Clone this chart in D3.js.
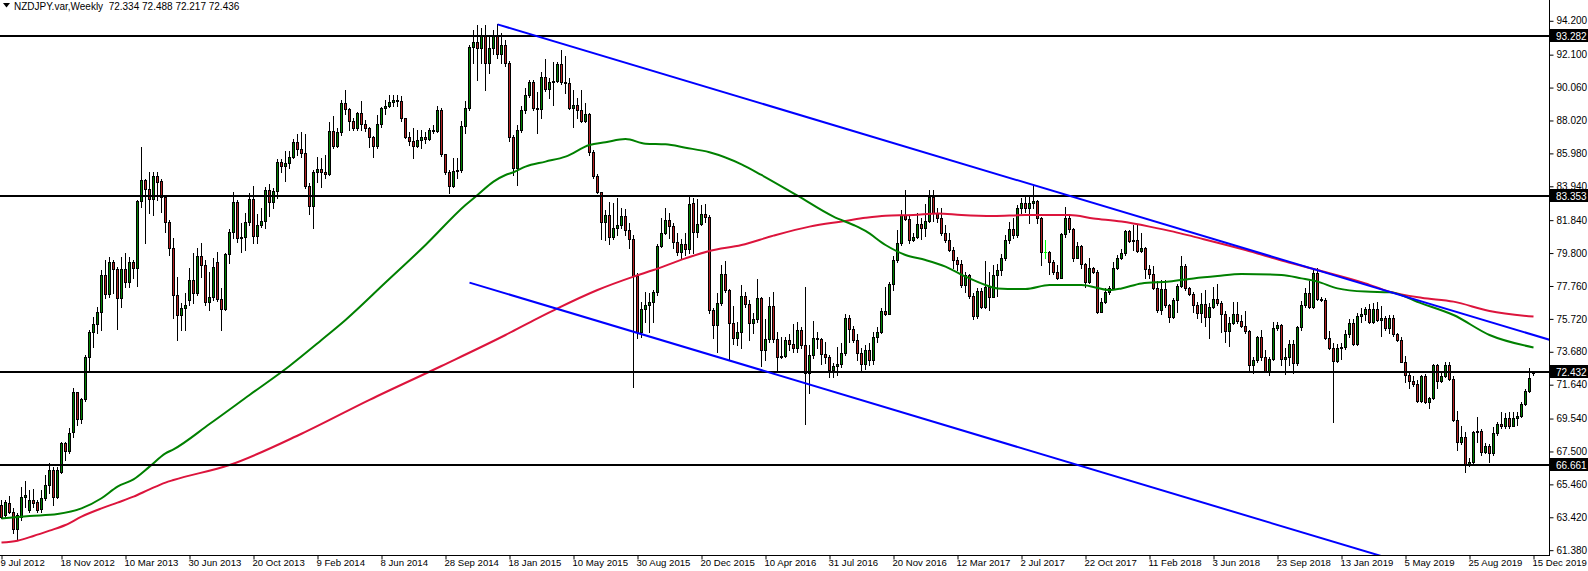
<!DOCTYPE html>
<html><head><meta charset="utf-8">
<script src="https://cdn.jsdelivr.net/npm/d3@7"></script>
<style>body{margin:0;background:#fff;overflow:hidden}svg{display:block}</style>
</head><body>
<svg id="chart" width="1588" height="571"></svg>
<script>
// ---------- DATA (weekly NZDJPY bars, index 0 = first visible week) ----------
const openP = [
64.18,63.56,64.29,63.77,62.67,63.46,64.70,63.87,64.49,64.39,
63.91,64.60,65.42,66.35,64.70,66.25,68.05,67.55,68.73,71.17,
69.49,70.73,73.34,74.91,75.40,76.13,78.44,77.26,79.23,78.79,
76.99,78.79,78.03,79.23,78.90,83.03,84.31,83.75,83.13,84.58,
84.27,83.30,81.75,80.09,77.20,75.96,76.37,76.89,78.13,77.30,
79.62,79.06,76.79,77.10,79.23,76.95,76.33,79.72,81.09,82.95,
80.75,80.82,81.75,83.15,80.88,81.54,81.79,83.71,82.95,83.65,
85.43,85.22,85.36,85.78,86.66,86.25,85.98,83.98,82.74,84.81,
85.01,84.81,84.68,87.37,86.46,87.33,89.08,88.73,87.99,87.57,
88.46,87.78,87.53,87.00,86.44,87.78,88.77,88.94,89.14,89.29,
89.23,88.15,87.00,86.75,86.44,86.81,87.00,86.87,87.43,87.39,
88.67,85.92,84.80,83.98,84.89,84.93,87.68,88.81,92.60,92.87,
92.49,93.28,91.56,92.49,93.28,92.12,92.70,91.56,87.02,85.05,
87.43,88.67,89.60,90.42,88.81,88.73,90.73,89.97,90.42,90.47,
91.50,90.38,90.32,88.81,88.95,88.67,87.99,88.40,86.09,84.60,
83.57,81.75,82.16,80.82,81.37,81.54,82.12,81.23,80.67,78.40,
74.93,76.33,76.58,76.75,77.41,80.26,81.02,81.85,81.50,80.47,
79.85,80.34,80.05,82.88,81.13,81.58,82.20,82.06,76.27,75.34,
76.68,78.48,77.51,75.44,74.51,74.89,77.16,76.62,75.44,75.71,
76.99,73.79,74.47,76.52,74.47,73.38,73.44,74.41,74.14,73.94,
75.03,74.10,72.34,73.48,74.51,74.47,73.52,73.38,72.55,72.82,
72.90,73.58,75.75,75.09,74.41,73.60,72.95,73.80,73.20,74.60,
74.93,76.21,76.00,77.86,79.37,80.40,82.16,81.91,80.61,80.82,
81.58,81.37,81.79,83.30,82.26,81.95,81.02,80.61,79.99,79.37,
79.10,77.82,78.44,77.16,75.92,77.45,76.48,77.72,77.10,78.44,
78.75,79.47,80.61,81.30,80.92,82.61,82.88,82.61,82.88,83.03,
81.99,79.85,79.85,79.23,78.65,78.27,80.96,81.95,81.29,79.51,
80.26,79.10,77.99,78.89,78.65,76.13,76.75,77.37,77.61,78.89,
79.51,79.78,81.17,80.55,80.61,79.93,80.14,78.81,78.48,77.61,
76.27,77.57,76.58,75.86,76.89,77.78,79.02,77.66,77.24,76.58,
76.10,76.64,75.82,76.44,76.93,76.72,76.02,74.99,75.44,76.02,
75.61,75.28,74.99,72.86,73.17,74.58,73.34,72.51,73.21,75.13,
75.34,73.21,73.34,74.16,72.96,75.20,76.58,77.35,76.44,78.58,
76.93,76.89,74.51,73.89,73.13,73.89,73.95,74.78,75.44,74.16,
75.90,76.00,76.33,75.51,76.33,75.65,75.75,75.13,75.75,74.76,
74.41,73.07,72.24,71.87,71.66,70.63,72.20,70.55,70.79,72.86,
71.87,72.20,72.86,71.99,69.45,68.07,68.42,66.66,66.83,68.73,
68.77,67.45,67.86,67.38,68.62,69.18,69.10,69.59,69.10,69.59,
69.72,70.42,71.25,72.334];
const highP = [
64.49,64.49,64.74,63.97,63.66,65.32,65.67,65.11,65.15,64.49,
65.11,66.04,66.77,66.56,66.56,68.11,68.11,68.93,71.42,71.21,
70.79,73.48,75.03,75.86,76.48,78.75,79.37,79.58,79.37,78.96,
79.58,79.78,79.58,79.37,83.09,86.40,84.37,84.85,84.85,84.85,
84.37,83.40,81.85,80.72,78.34,76.68,77.30,78.85,79.78,80.09,
80.40,79.37,78.65,79.47,79.89,77.61,79.78,81.29,83.61,83.09,
81.64,82.26,83.50,83.96,82.20,82.62,83.92,84.08,83.81,85.63,
85.63,86.13,86.13,86.87,87.16,87.33,87.16,84.12,84.95,85.78,
85.71,85.88,87.95,88.32,87.53,89.29,89.91,88.81,88.15,88.57,
89.23,88.05,87.64,87.08,88.36,88.88,89.29,89.60,89.60,89.60,
89.56,88.19,87.33,87.53,87.43,87.43,87.28,87.57,87.74,88.94,
88.77,85.96,84.95,85.71,85.67,87.99,89.23,92.70,93.63,93.94,
93.73,93.94,93.28,93.63,93.98,93.42,93.00,91.70,87.10,87.74,
88.94,90.01,90.53,90.53,89.81,91.05,91.83,90.67,91.62,91.67,
92.39,92.04,90.67,89.91,89.39,89.91,89.08,88.46,86.19,84.70,
83.61,82.47,82.99,82.88,83.23,82.57,82.53,81.64,80.90,78.54,
76.79,77.41,77.30,77.51,80.34,81.95,82.62,82.26,81.64,81.02,
80.67,81.02,83.30,83.19,83.15,82.78,82.82,82.16,76.37,77.30,
79.06,79.31,77.57,76.54,75.55,77.82,77.37,76.89,76.06,78.19,
77.10,75.71,77.10,77.37,74.89,74.62,74.62,74.76,75.38,75.55,
75.24,77.72,74.10,75.59,74.93,74.51,74.31,73.48,72.96,73.99,
74.20,76.00,75.96,75.30,74.80,73.90,74.10,74.20,74.90,75.24,
76.37,77.72,77.99,79.64,81.23,82.47,83.71,82.16,81.02,82.26,
81.95,82.82,83.71,83.71,82.62,82.57,81.54,81.02,80.20,79.58,
79.37,78.65,78.50,77.30,77.61,77.61,79.31,78.65,79.06,79.10,
79.72,80.92,81.75,81.95,82.78,83.23,83.30,83.30,84.02,83.09,
82.06,80.61,79.93,79.37,79.06,81.02,82.68,82.20,81.33,80.51,
80.30,79.16,79.47,78.96,78.75,77.00,77.61,77.78,79.23,79.68,
80.05,81.23,81.20,81.54,81.54,81.02,80.20,79.06,79.02,78.07,
78.13,78.13,76.62,76.99,77.86,79.64,79.10,77.72,77.41,76.79,
77.30,77.51,76.68,77.68,77.88,76.85,76.23,75.86,76.79,76.79,
75.96,76.23,75.03,73.38,74.66,75.03,73.79,73.38,75.55,75.55,
75.40,73.89,74.41,74.41,75.28,76.85,77.61,78.09,78.85,78.85,
77.06,76.99,74.99,74.20,74.16,74.24,75.03,75.69,75.69,76.06,
76.37,76.48,76.62,76.68,76.79,76.54,75.92,75.96,75.96,74.82,
74.62,73.44,72.41,72.20,71.93,72.24,72.28,70.90,72.90,72.90,
72.41,73.07,73.03,72.20,70.01,69.10,68.73,67.12,68.77,69.66,
68.90,68.01,67.94,69.04,69.31,69.97,69.86,69.93,69.97,69.93,
70.55,71.37,72.70,72.488];
const lowP = [
63.35,63.46,63.66,62.42,62.01,63.25,64.08,63.77,64.08,63.77,
63.77,64.49,64.90,64.18,64.60,66.14,66.97,67.38,68.42,69.14,
69.25,70.65,72.55,73.99,74.82,75.03,76.99,77.10,77.30,75.07,
76.48,77.72,77.72,78.23,77.76,82.64,80.45,82.26,82.16,83.09,
82.37,81.13,79.68,75.75,74.41,75.03,75.03,76.58,76.68,77.20,
78.34,76.58,76.27,76.89,76.83,75.03,76.27,79.16,80.71,80.51,
79.85,79.99,81.54,80.40,80.40,81.44,81.38,82.12,82.62,83.19,
84.85,84.29,85.05,85.71,85.88,85.78,83.86,82.20,81.38,84.23,
83.92,84.48,84.64,86.34,86.40,87.12,88.40,87.43,87.43,87.43,
87.43,87.37,86.40,85.78,86.34,87.64,88.40,88.88,88.94,88.90,
87.99,86.91,86.50,85.67,86.40,86.29,86.60,86.81,87.22,87.33,
85.84,84.68,83.50,83.92,84.43,84.85,87.22,88.67,91.56,90.53,
91.56,89.91,90.94,92.12,91.90,91.56,91.40,86.75,84.64,84.02,
87.33,88.46,89.50,88.67,87.22,88.15,89.85,89.39,88.98,90.42,
90.26,89.70,88.73,87.64,88.15,87.91,87.91,85.88,84.48,83.50,
80.67,80.61,80.34,80.67,80.92,81.33,80.92,80.09,71.48,74.51,
74.62,75.55,74.93,75.55,77.20,80.20,80.96,80.71,80.09,79.68,
79.51,79.68,79.78,79.78,80.82,81.54,81.75,76.06,74.56,73.65,
76.58,77.37,73.17,74.14,74.10,73.94,76.48,74.41,74.82,75.55,
72.82,73.17,74.31,74.31,72.45,73.27,73.38,73.79,73.69,73.69,
73.90,69.18,71.10,73.32,73.89,72.90,72.96,72.14,72.14,72.24,
72.76,73.48,74.31,74.27,73.20,72.55,72.60,72.85,72.95,74.30,
74.82,75.96,76.00,77.51,79.27,80.30,81.85,80.40,80.55,80.71,
80.67,80.88,81.75,81.79,81.75,80.92,80.51,79.93,78.85,78.75,
77.72,77.41,76.99,75.71,75.80,76.37,76.37,76.27,77.10,77.16,
78.44,79.37,80.40,80.71,80.82,82.26,82.37,81.64,82.57,81.64,
79.06,79.47,78.48,78.48,78.19,78.23,80.82,81.13,79.31,79.47,
78.85,77.72,77.92,78.54,76.06,76.13,76.68,77.24,77.57,78.81,
79.43,79.70,80.51,79.99,79.85,79.89,78.23,78.23,77.57,76.13,
76.00,76.48,75.55,75.80,76.17,77.72,77.51,77.20,76.17,75.75,
75.55,75.28,74.51,76.37,76.58,74.93,74.31,74.04,75.40,75.48,
75.20,74.82,72.51,72.34,73.07,73.17,72.45,72.24,73.17,75.03,
72.86,72.30,72.86,72.34,72.86,75.03,76.48,76.37,76.37,76.89,
76.85,74.45,73.83,69.35,73.07,73.21,73.83,74.58,74.10,74.10,
75.55,75.65,75.44,75.44,75.59,74.68,75.03,74.82,74.68,74.35,
73.03,71.79,71.45,71.58,70.59,70.59,70.48,70.22,70.75,71.41,
71.79,72.14,71.93,69.39,67.59,67.94,66.25,66.60,66.70,68.11,
67.28,67.38,66.87,67.28,68.52,68.93,68.97,68.93,69.05,69.14,
69.66,70.38,71.17,72.217];
const closeP = [
63.46,64.39,63.77,62.67,63.56,64.70,64.80,64.49,64.33,63.87,
64.60,65.42,66.35,64.70,66.35,68.00,67.55,68.62,71.17,69.49,
70.73,73.34,74.91,75.40,76.13,78.44,77.26,79.23,78.79,76.99,
78.79,78.03,79.23,78.90,83.03,84.31,83.75,83.13,84.58,84.23,
83.26,81.75,80.09,77.20,75.96,76.37,76.58,78.13,77.30,79.62,
79.06,76.79,77.10,78.92,76.95,76.33,79.72,81.09,82.95,80.75,
80.82,81.75,83.15,80.88,81.54,81.79,83.71,82.95,83.65,85.43,
85.22,85.36,85.78,86.66,86.25,85.98,83.98,82.74,84.81,85.01,
84.81,84.68,87.37,86.46,87.33,89.08,88.73,87.99,87.57,88.46,
87.78,87.53,87.00,86.44,87.78,88.77,88.94,89.14,89.29,89.23,
88.15,87.00,86.75,86.44,86.81,87.00,86.87,87.43,87.39,88.67,
85.92,84.80,83.98,84.89,84.93,87.68,88.81,92.60,92.87,92.49,
93.28,91.56,92.49,93.28,92.12,92.70,91.56,87.02,85.05,87.43,
88.67,89.60,90.42,88.81,88.73,90.73,89.97,90.42,90.47,91.50,
90.38,90.32,88.81,88.95,88.67,87.99,88.40,86.09,84.60,83.57,
81.75,82.16,80.82,81.37,81.54,82.12,81.23,80.67,78.40,74.93,
76.33,76.58,76.75,77.41,80.26,81.02,81.85,81.50,80.47,79.85,
80.34,80.05,82.82,81.13,81.58,82.20,82.06,76.27,75.34,76.68,
78.48,77.51,75.44,74.51,74.89,77.16,76.62,75.44,75.71,76.99,
73.79,74.47,76.52,74.47,73.38,73.44,74.41,74.14,73.94,75.03,
74.10,72.34,73.48,74.51,74.47,73.52,73.38,72.55,72.82,72.90,
73.58,75.75,75.09,74.41,73.60,72.95,73.80,73.20,74.60,74.93,
76.21,76.00,77.86,79.37,80.40,82.16,81.91,80.61,80.82,81.58,
81.37,81.79,83.30,82.26,81.95,81.02,80.61,79.99,79.37,79.10,
77.82,78.44,77.16,75.92,77.45,76.48,77.72,77.10,78.44,78.75,
79.47,80.61,81.30,80.92,82.61,82.88,82.61,82.88,83.03,81.99,
79.85,79.85,79.23,78.65,78.27,80.96,81.95,81.29,79.51,80.26,
79.10,77.99,78.89,78.65,76.13,76.75,77.37,77.61,78.89,79.51,
79.78,81.17,80.55,80.61,79.93,80.14,78.81,78.48,77.61,76.27,
77.57,76.58,75.86,76.89,77.78,79.02,77.66,77.24,76.58,76.10,
76.64,75.82,76.44,76.93,76.72,76.02,74.99,75.44,76.02,75.61,
75.28,74.99,72.86,73.17,74.58,73.34,72.51,73.21,75.13,75.34,
73.21,73.34,74.16,72.96,75.20,76.58,77.35,76.44,78.58,76.93,
76.89,74.51,73.89,73.13,73.89,73.95,74.78,75.44,74.16,75.90,
76.00,76.33,75.51,76.33,75.65,75.75,75.13,75.75,74.76,74.41,
73.07,72.24,71.87,71.66,70.63,72.20,70.55,70.79,72.86,71.87,
72.20,72.86,71.99,69.45,68.07,68.42,66.66,66.83,68.73,68.77,
67.45,67.86,67.38,68.62,69.18,69.10,69.59,69.10,69.59,69.72,
70.42,71.25,72.07,72.436];

// moving averages: bar index -> value
const maGreenBar = [0,7,14,20,25,29,33,37,41,43,52,62,72,80,86,96,106,116,119,123,126,128,131,136,141,147,151,156,161,166,171,177,185,190,199,208,213,216,221,226,231,236,241,246,249,256,262,270,277,280,285,292,298,304,310,320,325,329,334,341,347,355,363,372,383];
const maGreenVal = [63.35,63.50,63.62,63.97,64.60,65.32,65.77,66.56,67.38,67.63,69.2,71.0,72.8,74.41,75.65,77.97,80.3,82.78,83.40,84.23,84.64,84.81,85.16,85.47,85.78,86.50,86.67,86.87,86.58,86.54,86.33,86.05,85.30,84.64,83.36,82.06,81.54,81.17,80.30,79.68,79.37,78.96,78.34,77.82,77.61,77.57,77.82,77.82,77.51,77.61,77.92,78.03,78.23,78.38,78.50,78.44,78.23,78.03,77.61,77.41,77.37,76.68,75.96,74.72,73.95];
const maRedBar = [0,4,8,12,16,20,25,29,33,37,41,43,57,75,92,110,126,134,139,149,158,163,171,177,185,193,202,211,216,221,228,234,240,248,256,267,273,280,287,293,298,311,321,329,341,347,355,363,372,383];
const maRedVal = [61.85,61.97,62.26,62.59,62.94,63.46,63.97,64.33,64.70,65.15,65.57,65.73,66.66,68.6,70.7,72.8,74.72,75.75,76.37,77.51,78.34,78.75,79.47,79.93,80.30,80.88,81.44,81.79,81.99,82.12,82.16,82.26,82.16,82.10,82.16,82.16,81.95,81.75,81.44,81.13,80.82,79.99,79.27,78.75,77.92,77.41,77.03,76.79,76.21,75.86];

// horizontal levels and trend rays (bar1, price1, bar2, price2)
const levels = [93.282, 83.353, 72.432, 66.661];
const trendStartBar = [124, 117];
const trendStartPrice = [93.98, 77.97];
const trendEndBar = [383, 213];
const trendEndPrice = [74.72, 70.83];

const priceTicks = [94.200,92.100,90.060,88.020,85.980,83.940,81.840,79.800,77.760,75.720,73.680,71.640,69.540,67.500,65.460,63.420,61.380];
const timeLabels = ["9 Jul 2012","18 Nov 2012","10 Mar 2013","30 Jun 2013","20 Oct 2013","9 Feb 2014","8 Jun 2014","28 Sep 2014","18 Jan 2015","10 May 2015","30 Aug 2015","20 Dec 2015","10 Apr 2016","31 Jul 2016","20 Nov 2016","12 Mar 2017","2 Jul 2017","22 Oct 2017","11 Feb 2018","3 Jun 2018","23 Sep 2018","13 Jan 2019","5 May 2019","25 Aug 2019","15 Dec 2019"];
const timeLabelBars = [0,15,31,47,63,79,95,111,127,143,159,175,191,207,223,239,255,271,287,303,319,335,351,367,383];
const headerSymbol = "NZDJPY.var,Weekly";
const headerValues = ["72.334","72.488","72.217","72.436"];

// ---------- DRAWING ----------
const W = 1588, H = 571;
const plotRight = 1549, plotBottom = 555;
const FONT = "'Liberation Sans', Arial, sans-serif";
const svg = d3.select("#chart");
svg.append("rect").attr("width", W).attr("height", H).attr("fill", "#fff");

const x = d3.scaleLinear().domain([0, 383]).range([1.5, 1.5 + 4 * 383]);
const y = d3.scaleLinear().domain([66.661, 93.282]).range([465.0, 35.6]);

svg.append("defs").append("clipPath").attr("id", "plotClip")
  .append("rect").attr("x", 0).attr("y", 0).attr("width", plotRight).attr("height", plotBottom);
const plot = svg.append("g").attr("clip-path", "url(#plotClip)");

const bars = d3.range(closeP.length).map(i => {
  const o = openP[i], c = closeP[i];
  return {i, o, c, h: Math.max(highP[i], o, c), l: Math.min(lowP[i], o, c)};
});
const cx = d => Math.round(x(d.i) - 0.5) + 0.5;
const bodyTop = d => Math.round(y(Math.max(d.o, d.c)));
const bodyBot = d => Math.max(bodyTop(d) + 1, Math.round(y(Math.min(d.o, d.c))));
const isDoji = d => d.o === d.c;

const cg = plot.append("g");
cg.selectAll("line.wick").data(bars).join("line").attr("class", "wick")
  .attr("x1", cx).attr("x2", cx)
  .attr("y1", d => Math.round(y(d.h))).attr("y2", d => Math.round(y(d.l)) + 1)
  .attr("stroke", d => isDoji(d) ? "#00ff00" : "#000").attr("stroke-width", 1);
const solid = bars.filter(d => !isDoji(d));
cg.selectAll("rect.body").data(solid).join("rect").attr("class", "body")
  .attr("x", d => cx(d) - 1.5).attr("width", 3)
  .attr("y", bodyTop).attr("height", d => bodyBot(d) - bodyTop(d) + 1)
  .attr("fill", "#000");
cg.selectAll("rect.fill").data(solid.filter(d => bodyBot(d) - bodyTop(d) > 1)).join("rect").attr("class", "fill")
  .attr("x", d => cx(d) - 0.5).attr("width", 1)
  .attr("y", d => bodyTop(d) + 1).attr("height", d => bodyBot(d) - bodyTop(d) - 1)
  .attr("fill", d => d.c > d.o ? "#008000" : "#b22222");
cg.selectAll("line.doji").data(bars.filter(isDoji)).join("line").attr("class", "doji")
  .attr("x1", d => cx(d) - 1.5).attr("x2", d => cx(d) + 1.5)
  .attr("y1", d => Math.round(y(d.o)) + 0.5).attr("y2", d => Math.round(y(d.o)) + 0.5)
  .attr("stroke", "#00ff00");

// moving averages
const maLine = d3.line().x(d => x(d[0])).y(d => y(d[1])).curve(d3.curveMonotoneX);
plot.append("path").datum(d3.zip(maRedBar, maRedVal)).attr("d", maLine)
  .attr("fill", "none").attr("stroke", "#dc143c").attr("stroke-width", 2);
plot.append("path").datum(d3.zip(maGreenBar, maGreenVal)).attr("d", maLine)
  .attr("fill", "none").attr("stroke", "#008000").attr("stroke-width", 2);

// horizontal levels
plot.selectAll("line.level").data(levels).join("line").attr("class", "level")
  .attr("x1", 0).attr("x2", plotRight)
  .attr("y1", d => Math.round(y(d))).attr("y2", d => Math.round(y(d)))
  .attr("stroke", "#000").attr("stroke-width", 2);

// trend rays, extended to the right edge
const rays = trendStartBar.map((b, k) => {
  const slope = (trendEndPrice[k] - trendStartPrice[k]) / (trendEndBar[k] - b);
  const bEnd = x.invert(plotRight + 2);
  return [[b, trendStartPrice[k]], [bEnd, trendStartPrice[k] + slope * (bEnd - b)]];
});
plot.selectAll("line.ray").data(rays).join("line").attr("class", "ray")
  .attr("x1", d => x(d[0][0])).attr("y1", d => y(d[0][1]))
  .attr("x2", d => x(d[1][0])).attr("y2", d => y(d[1][1]))
  .attr("stroke", "#0000ff").attr("stroke-width", 2);

// axes
svg.append("line").attr("x1", plotRight + 0.5).attr("x2", plotRight + 0.5)
  .attr("y1", 0).attr("y2", plotBottom + 1).attr("stroke", "#000");
svg.append("line").attr("x1", 0).attr("x2", plotRight + 1)
  .attr("y1", plotBottom + 0.5).attr("y2", plotBottom + 0.5).attr("stroke", "#000");

const yAxis = d3.axisRight(y).tickValues(priceTicks).tickSize(4).tickPadding(3)
  .tickFormat(d3.format(".3f"));
const ya = svg.append("g").attr("transform", `translate(${plotRight + 0.5},0)`).call(yAxis);
ya.select(".domain").remove();
ya.selectAll("text").attr("font-family", FONT).attr("font-size", 10).attr("fill", "#000");
ya.selectAll("line").attr("stroke", "#000");

const xAxis = d3.axisBottom(x).tickValues(timeLabelBars).tickSize(4).tickPadding(0)
  .tickFormat((d, i) => timeLabels[i]);
const xa = svg.append("g").attr("transform", `translate(0,${plotBottom + 0.5})`).call(xAxis);
xa.select(".domain").remove();
xa.selectAll("text").attr("font-family", FONT).attr("font-size", 9.6).attr("fill", "#000")
  .attr("text-anchor", "start").attr("dx", (d, i) => i === 0 ? -1.5 : -1.5);
xa.selectAll("line").attr("stroke", "#000");

// highlighted level labels on the price scale
const lv = svg.append("g");
lv.selectAll("rect").data(levels).join("rect")
  .attr("x", plotRight + 1).attr("width", W - plotRight - 1)
  .attr("y", d => Math.round(y(d)) - 7).attr("height", 13).attr("fill", "#000");
lv.selectAll("text").data(levels).join("text")
  .attr("x", plotRight + 7).attr("y", d => Math.round(y(d)) + 3.5)
  .attr("font-family", FONT).attr("font-size", 10).attr("fill", "#fff")
  .text(d => d3.format(".3f")(d));

// header
svg.append("path").attr("d", "M3,3 L10,3 L6.5,7.5 Z").attr("fill", "#000");
svg.append("text").attr("x", 14).attr("y", 10).attr("font-family", FONT).attr("font-size", 10)
  .attr("fill", "#000").style("white-space", "pre")
  .text(headerSymbol + "  " + headerValues.join(" "));
</script>
</body></html>
